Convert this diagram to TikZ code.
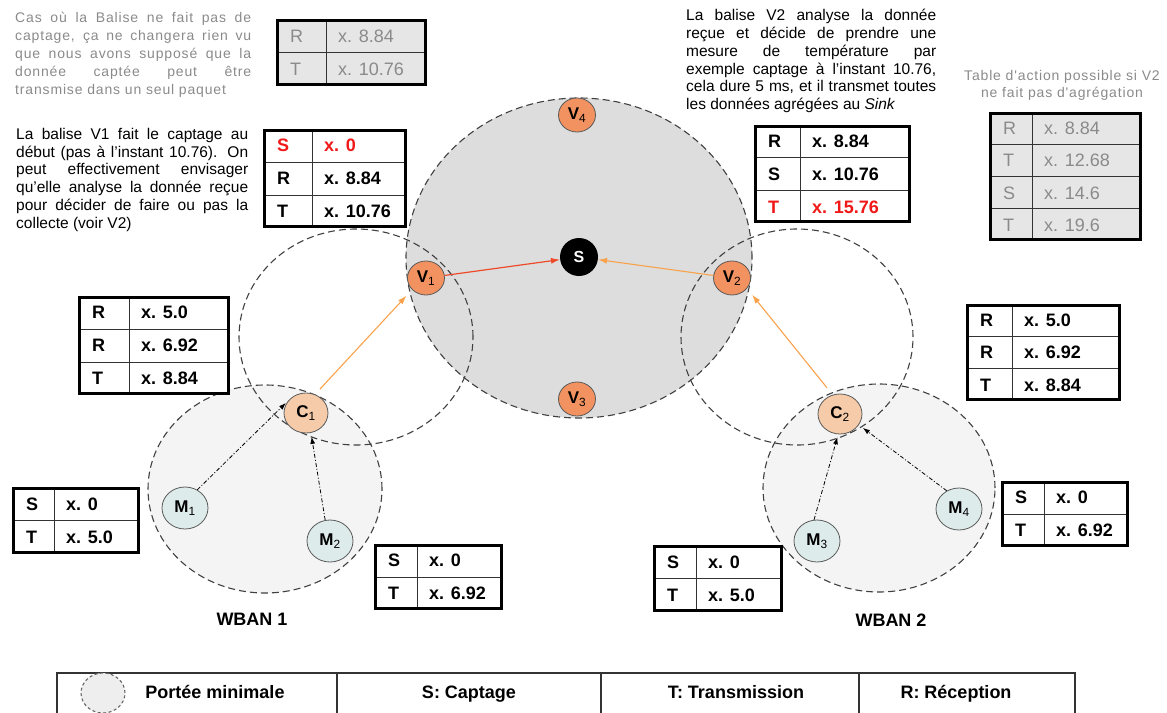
\documentclass[tikz,border=0pt]{standalone}
\usepackage{fontspec}
\setmainfont{Liberation Sans}
\newfontfamily\grayfont[LetterSpace=6]{Liberation Sans}
\usetikzlibrary{shapes.geometric,arrows.meta}

\definecolor{rangegray}{HTML}{DDDDDD}
\definecolor{wbangray}{HTML}{F4F4F4}
\definecolor{leggray}{HTML}{EEEEEE}
\definecolor{dashcol}{HTML}{404040}
\definecolor{vorange}{HTML}{F29260}
\definecolor{cpeach}{HTML}{F6CBA9}
\definecolor{mblue}{HTML}{DEEBEB}
\definecolor{nodeline}{HTML}{5A5A5A}
\definecolor{redarrow}{HTML}{EE4A2A}
\definecolor{orangearrow}{HTML}{F9A24C}
\definecolor{txtgray}{HTML}{8A8A8A}
\definecolor{tabgray}{HTML}{E6E6E6}
\definecolor{tabred}{HTML}{F01818}
\definecolor{legline}{HTML}{333333}

\newcommand{\drawtab}[9]{%
  \fill[#8] (#2,#3) rectangle (#4,#5);
  \pgfmathsetmacro\rowh{(#5-#3)/#7}
  \foreach [count=\i] \tkey/\tval/\tsty in {#9}{%
    \pgfmathsetmacro\ymid{#3+(\i-0.5)*\rowh}
    \node[\tsty] (#1-\i-k) at (#2+14,\ymid) {\tkey};
    \node[\tsty] (#1-\i-v) at (#6+12,\ymid) {\tval};
  }
  \foreach \i in {2,...,#7}{%
    \pgfmathsetmacro\yrow{#3+(\i-1)*\rowh}
    \draw[tabinner] (#2,\yrow) -- (#4,\yrow);
  }
  \draw[tabinner] (#6,#3) -- (#6,#5);
  \draw[tabouter] (#2+1.6,#3+1.6) rectangle (#4-1.6,#5-1.6);
}
\newcommand{\jline}[5]{\node[anchor=base west, inner sep=0pt] (#1) at (#2,#3) {\makebox[#4pt][s]{#5}};}
\newcommand{\nline}[4]{\node[anchor=base west, inner sep=0pt] (#1) at (#2,#3) {#4};}
\newcommand{\lab}[2]{#1\textsubscript{\mdseries #2}}

\begin{document}
\begin{tikzpicture}[x=1pt,y=-1pt,
  rangeell/.style={ellipse, draw=dashcol, dash pattern=on 7pt off 4pt, line width=1.1pt, inner sep=0pt},
  vnode/.style={ellipse, draw=nodeline, fill=vorange, line width=0.8pt, minimum width=37pt, minimum height=34pt, inner sep=0pt, font=\fontsize{17}{17}\selectfont\bfseries},
  cnode/.style={vnode, fill=cpeach, minimum width=44pt, minimum height=40pt},
  mnode/.style={vnode, fill=mblue, minimum width=46pt, minimum height=42pt},
  sinknode/.style={circle, fill=black, minimum size=38pt, inner sep=0pt, text=white, font=\fontsize{16}{16}\selectfont\bfseries},
  orarrow/.style={-{Latex[length=9pt,width=6pt]}, draw=orangearrow, line width=1.1pt},
  redarr/.style={-{Latex[length=9pt,width=6pt]}, draw=redarrow, line width=1.2pt},
  dotarrow/.style={-{Latex[length=7pt,width=5pt]}, draw=black, line width=0.8pt, dash pattern=on 4pt off 2pt on 1pt off 2pt},
  tabbase/.style={anchor=west, inner sep=0pt, text height=12.9pt, text depth=0pt},
  bk/.style={tabbase, text=black, font=\fontsize{18}{18}\selectfont\bfseries},
  rd/.style={tabbase, text=tabred, font=\fontsize{18}{18}\selectfont\bfseries},
  gt/.style={tabbase, text=txtgray, font=\fontsize{18}{18}\selectfont},
  tabinner/.style={draw=legline, line width=1pt},
  tabouter/.style={draw=black, line width=3.4pt},
  graytxt/.style={every node/.append style={font=\grayfont\fontsize{14}{17}\selectfont, text=txtgray}},
  blacktxt/.style={every node/.append style={font=\fontsize{15.5}{17}\selectfont, text=black}},
  wbanlab/.style={anchor=base, inner sep=0pt, font=\fontsize{18}{18}\selectfont\bfseries},
  legtxt/.style={anchor=base, inner sep=0pt, font=\fontsize{18}{18}\selectfont\bfseries}
]
\useasboundingbox (0,0) rectangle (1167,712);
\clip (0,0) rectangle (1167,712);

% ranges
\node[rangeell, fill=rangegray, minimum width=346pt, minimum height=320pt] (rangeS) at (579,258) {};
\node[rangeell, fill=wbangray, minimum width=234pt, minimum height=208pt] (wban1) at (265,489) {};
\node[rangeell, fill=wbangray, minimum width=232pt, minimum height=208pt] (wban2) at (879,488) {};
\node[rangeell, minimum width=234pt, minimum height=216pt] (rangeV1) at (356,337) {};
\node[rangeell, minimum width=232pt, minimum height=216pt] (rangeV2) at (797,337) {};

% nodes
\node[sinknode] (S) at (579,257) {S};
\node[vnode] (V1) at (426,278) {\lab{V}{1}};
\node[vnode] (V2) at (732,278) {\lab{V}{2}};
\node[vnode] (V3) at (577,399) {\lab{V}{3}};
\node[vnode] (V4) at (577,115) {\lab{V}{4}};
\node[cnode] (C1) at (306,413) {\lab{C}{1}};
\node[cnode] (C2) at (840,414) {\lab{C}{2}};
\node[mnode] (M1) at (185,508) {\lab{M}{1}};
\node[mnode] (M2) at (330,541) {\lab{M}{2}};
\node[mnode] (M3) at (817,541) {\lab{M}{3}};
\node[mnode] (M4) at (959,509) {\lab{M}{4}};

% connectors
\draw[redarr] (V1) -- (S);
\draw[orarrow] (V2) -- (S);
\draw[orarrow, shorten <=7pt, shorten >=8pt] (C1.64) -- (V1.220);
\draw[orarrow, shorten <=9pt, shorten >=8pt] (C2.111) -- (V2.-35);
\draw[dotarrow, shorten >=3pt] (M1.56) -- (C1.146);
\draw[dotarrow, shorten >=4pt] (M2.103) -- (C1.284);
\draw[dotarrow, shorten >=3pt] (M3.98) -- (C2.265);
\draw[dotarrow, shorten >=5pt] (M4.124) -- (C2.330);

% labels
\node[wbanlab] (lw1) at (252,625) {WBAN 1};
\node[wbanlab] (lw2) at (891,626) {WBAN 2};

% tables
\drawtab{tA}{276}{19}{427}{86}{326}{2}{tabgray}{R/x. 8.84/gt, T/x. 10.76/gt}
\drawtab{tB}{263}{129}{407}{228}{312}{3}{white}{S/x. 0/rd, R/x. 8.84/bk, T/x. 10.76/bk}
\drawtab{tC}{754}{125}{911}{223}{800}{3}{white}{R/x. 8.84/bk, S/x. 10.76/bk, T/x. 15.76/rd}
\drawtab{tD}{989}{112}{1142}{241}{1032}{4}{tabgray}{R/x. 8.84/gt, T/x. 12.68/gt, S/x. 14.6/gt, T/x. 19.6/gt}
\drawtab{tE}{78}{296}{230}{395}{129}{3}{white}{R/x. 5.0/bk, R/x. 6.92/bk, T/x. 8.84/bk}
\drawtab{tF}{12}{487}{140}{554}{54}{2}{white}{S/x. 0/bk, T/x. 5.0/bk}
\drawtab{tG}{374}{544}{503}{610}{417}{2}{white}{S/x. 0/bk, T/x. 6.92/bk}
\drawtab{tH}{966}{304}{1121}{401}{1012}{3}{white}{R/x. 5.0/bk, R/x. 6.92/bk, T/x. 8.84/bk}
\drawtab{tI}{1001}{481}{1129}{547}{1044}{2}{white}{S/x. 0/bk, T/x. 6.92/bk}
\drawtab{tJ}{653}{545}{783}{612}{696}{2}{white}{S/x. 0/bk, T/x. 5.0/bk}

% texts
\begin{scope}[graytxt]
\jline{g1}{15}{23}{236}{Cas où la Balise ne fait pas de}
\jline{g2}{15}{40.8}{236}{captage, ça ne changera rien vu}
\jline{g3}{15}{58.6}{236}{que nous avons supposé que la}
\jline{g4}{15}{76.4}{236}{donnée captée peut être}
\nline{g5}{15}{94.2}{transmise dans un seul paquet}
\node[anchor=base, inner sep=0pt] (cap1) at (1062,80) {Table d'action possible si V2};
\node[anchor=base, inner sep=0pt] (cap2) at (1062,97.5) {ne fait pas d'agrégation};
\end{scope}
\begin{scope}[blacktxt]
\jline{b1}{16}{139.5}{232}{La balise V1 fait le captage au}
\jline{b2}{16}{157.2}{232}{début (pas à l'instant 10.76). On}
\jline{b3}{16}{174.9}{232}{peut effectivement envisager}
\jline{b4}{16}{192.6}{232}{qu'elle analyse la donnée reçue}
\jline{b5}{16}{210.3}{232}{pour décider de faire ou pas la}
\nline{b6}{16}{228}{collecte (voir V2)}
\jline{r1}{686}{20.7}{250}{La balise V2 analyse la donnée}
\jline{r2}{686}{38.5}{250}{reçue et décide de prendre une}
\jline{r3}{686}{56.3}{250}{mesure de température par}
\jline{r4}{686}{74.1}{250}{exemple captage à l'instant 10.76,}
\jline{r5}{686}{91.9}{250}{cela dure 5 ms, et il transmet toutes}
\nline{r6}{686}{109.7}{les données agrégées au \textit{Sink}}
\end{scope}

% legend
\draw[draw=legline, line width=1.2pt] (57,673) rectangle (1075,740);
\draw[draw=legline, line width=1.2pt] (337,673) -- (337,740);
\draw[draw=legline, line width=1.2pt] (601,673) -- (601,740);
\draw[draw=legline, line width=1.2pt] (859,673) -- (859,740);
\node[rangeell, fill=leggray, draw=dashcol!80, minimum width=44pt, minimum height=40pt, dash pattern=on 3pt off 2.5pt] (legE) at (103,693) {};
\node[legtxt] (lg1) at (215,698.5) {Portée minimale};
\node[legtxt] (lg2) at (469,698.5) {S: Captage};
\node[legtxt] (lg3) at (736,698.5) {T: Transmission};
\node[legtxt] (lg4) at (956,698.5) {R: Réception};
\end{tikzpicture}
\end{document}
